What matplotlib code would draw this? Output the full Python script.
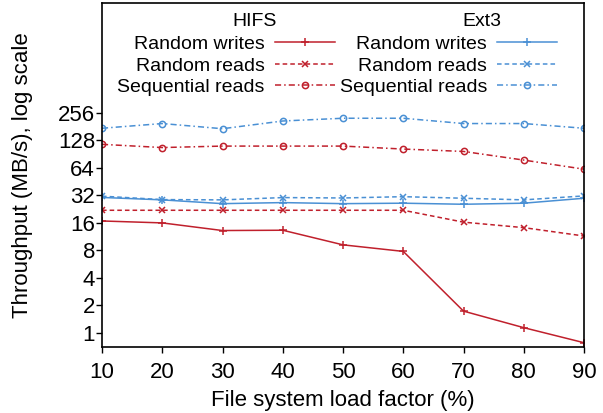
import matplotlib
matplotlib.use("Agg")
import matplotlib.pyplot as plt

plt.rcParams['font.family'] = ['Liberation Sans', 'DejaVu Sans']

load = [10, 20, 30, 40, 50, 60, 70, 80, 90]

hifs_rw = [16.8, 16.0, 13.2, 13.3, 9.2, 7.8, 1.73, 1.14, 0.78]
hifs_rr = [22, 22, 22, 22, 22, 22, 16.3, 14.2, 11.5]
hifs_sr = [116, 107, 111, 111, 111, 103, 97, 78, 62]

ext3_rw = [30.4, 28.6, 26.0, 26.7, 26.0, 26.3, 25.6, 26.3, 29.8]
ext3_rr = [31.4, 28.8, 28.6, 30.3, 30.0, 31.0, 29.8, 28.6, 31.6]
ext3_sr = [174, 196, 172, 209, 224, 224, 196, 196, 174]

yticks = [1, 2, 4, 8, 16, 32, 64, 128, 256]
labels = ["Random writes", "Random reads", "Sequential reads"]

red = "#c0202c"
blue = "#4a90d4"
dash = (0, (3, 2))
dashdot = (0, (4, 2, 1, 2))

fig = plt.figure(figsize=(6.03, 4.13), dpi=100)
ax = fig.add_axes([102/603, 1 - 347/413, (584-102)/603, (347-3)/413])

styles = [("-", "+", 5.5), (dash, "x", 4), (dashdot, "o", 4.5)]
h_hifs = []
for vals, (ls, mk, ms) in zip([hifs_rw, hifs_rr, hifs_sr], styles):
    l, = ax.plot(load, vals, linestyle=ls, marker=mk, ms=ms, color=red, lw=1.1,
                 mfc="none", mew=1.1)
    h_hifs.append(l)
h_ext = []
for vals, (ls, mk, ms) in zip([ext3_rw, ext3_rr, ext3_sr], styles):
    l, = ax.plot(load, vals, linestyle=ls, marker=mk, ms=ms, color=blue, lw=1.1,
                 mfc="none", mew=1.1)
    h_ext.append(l)

ax.set_yscale("log", base=2)
ax.set_ylim(0.7, 4096)
ax.set_xlim(10, 90)
ax.set_yticks(yticks)
ax.set_yticklabels([str(t) for t in yticks])
ax.minorticks_off()
ax.set_xticks(load)
ax.tick_params(axis="both", labelsize=16, direction="out", length=4, width=1,
               top=False, right=False)
ax.tick_params(axis="y", pad=1)
ax.tick_params(axis="x", pad=7)
for s in ax.spines.values():
    s.set_linewidth(1.2)

ax.set_xlabel("File system load factor (%)", fontsize=16, labelpad=5)
ax.set_ylabel("Throughput (MB/s), log scale", fontsize=16)
ax.yaxis.set_label_coords(-0.143, 0.5)

kw = dict(loc="upper right", markerfirst=False, frameon=False, fontsize=14,
          handlelength=3.1, handletextpad=0.5, labelspacing=0.2,
          borderaxespad=0, borderpad=0)
leg1 = ax.legend(h_hifs, labels, bbox_to_anchor=(0.483, 0.905), **kw)
ax.add_artist(leg1)
leg2 = ax.legend(h_ext, labels, bbox_to_anchor=(0.944, 0.905), **kw)
ax.text(0.317, 0.945, "HIFS", transform=ax.transAxes, fontsize=14,
        ha="center", va="center")
ax.text(0.788, 0.945, "Ext3", transform=ax.transAxes, fontsize=14,
        ha="center", va="center")

fig.savefig("out.png", dpi=100)
